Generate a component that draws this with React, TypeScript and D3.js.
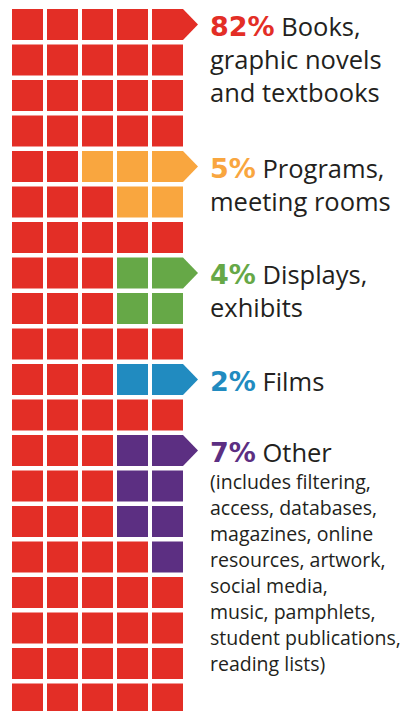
import React from "react";
import * as d3 from "d3";

const categories = ["Books", "Programs", "Displays", "Films", "Other"];
const percents = [82, 5, 4, 2, 7];
const colors = ["#E32E26", "#F9A63F", "#66A847", "#218BC0", "#5C2F82"];
// which category each cell of the 5x20 waffle belongs to (row by row)
const gridRows = [
  "00000", "00000", "00000", "00000",
  "00111", "00011", "00000",
  "00022", "00022", "00000",
  "00033", "00000",
  "00044", "00044", "00044", "00004",
  "00000", "00000", "00000", "00000",
];
// row where each category's arrow / label sits
const labelRows = [0, 4, 7, 10, 12];
const labelLines = [
  ["Books,", "graphic novels", "and textbooks"],
  ["Programs,", "meeting rooms"],
  ["Displays,", "exhibits"],
  ["Films"],
  ["Other"],
];
const noteLines = [
  "(includes filtering,",
  "access, databases,",
  "magazines, online",
  "resources, artwork,",
  "social media,",
  "music, pamphlets,",
  "student publications,",
  "reading lists)",
];

const W = 404;
const H = 711;
const FONT = "'Open Sans', 'DejaVu Sans', sans-serif";
const PFONT = "'DejaVu Sans', sans-serif";

export default function App() {
  const cols = d3.range(5);
  const rows = d3.range(gridRows.length);
  const x = d3.scaleBand<number>().domain(cols).range([12, 183]).paddingInner(4 / 35).paddingOuter(0);
  const y = d3.scaleBand<number>().domain(rows).range([9, 9 + 19 * 35.5 + 31]).paddingInner(4.5 / 35.5).paddingOuter(0);
  const bw = x.bandwidth();
  const bh = y.bandwidth();
  const tip = 15;

  const cells: React.ReactNode[] = [];
  rows.forEach((r) => {
    cols.forEach((c) => {
      const cat = +gridRows[r][c];
      const x0 = x(c)!;
      const y0 = y(r)!;
      const isArrow = c === 4 && labelRows[cat] === r;
      if (isArrow) {
        const path = d3.path();
        path.moveTo(x0, y0);
        path.lineTo(x0 + bw, y0);
        path.lineTo(x0 + bw + tip, y0 + bh / 2);
        path.lineTo(x0 + bw, y0 + bh);
        path.lineTo(x0, y0 + bh);
        path.closePath();
        cells.push(<path key={`${r}-${c}`} d={path.toString()} fill={colors[cat]} />);
      } else {
        cells.push(<rect key={`${r}-${c}`} x={x0} y={y0} width={bw} height={bh} fill={colors[cat]} />);
      }
    });
  });

  const tx = 210;
  const lineH = 33;
  const labels = categories.map((cat, i) => {
    const r = labelRows[i];
    const base = y(r)! + bh / 2 + 11;
    return (
      <g key={cat}>
        {labelLines[i].map((ln, j) => (
          <text key={j} x={tx} y={base + j * lineH} fontFamily={FONT} fontSize={25.5} fill="#231F20">
            {j === 0 && (
              <tspan fontWeight={700} fill={colors[i]} fontSize={27} fontFamily={PFONT}>
                {percents[i]}%
              </tspan>
            )}
            {j === 0 ? " " + ln : ln}
          </text>
        ))}
        {i === 4 &&
          noteLines.map((ln, k) => (
            <text key={"n" + k} x={tx} y={base + 27 + k * 26} fontFamily={FONT} fontSize={19.5} fill="#231F20">
              {ln}
            </text>
          ))}
      </g>
    );
  });

  return (
    <div style={{ position: "absolute", left: 0, top: 0 }}>
      <svg width={W} height={H} style={{ display: "block", background: "#fff" }}>
        {cells}
        {labels}
      </svg>
    </div>
  );
}
